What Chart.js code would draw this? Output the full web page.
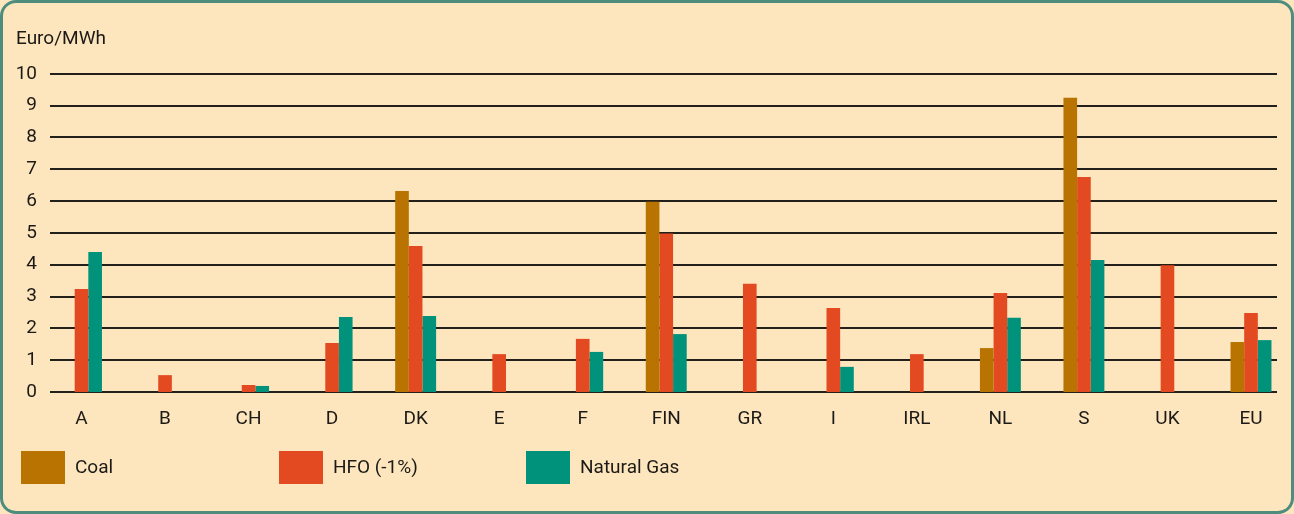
<!DOCTYPE html>
<html>
<head>
<meta charset="utf-8">
<script src="https://cdn.jsdelivr.net/npm/chart.js@4.4.1/dist/chart.umd.min.js"></script>
<style>
    html, body { margin: 0; padding: 0; background: #fde6be; }
    #wrap { position: relative; width: 1294px; height: 514px; }
    #frame {
        position: absolute; left: 0; top: 0; width: 1294px; height: 514px;
        box-sizing: border-box; border: 3px solid #4e8d7e; border-radius: 16px;
        pointer-events: none;
    }
    canvas { position: absolute; left: 0; top: 0; }
</style>
</head>
<body>
<div id="wrap">
    <canvas id="myChart" width="1294" height="514"></canvas>
    <div id="frame"></div>
</div>
<script>
/* data (Euro/MWh) */
let countries = ['A', 'B', 'CH', 'D', 'DK', 'E', 'F', 'FIN', 'GR', 'I', 'IRL', 'NL', 'S', 'UK', 'EU'];
let coal = [null, null, null, null, 6.32, null, null, 5.98, null, null, null, 1.38, 9.25, null, 1.57];
let hfo = [3.24, 0.53, 0.22, 1.54, 4.59, 1.19, 1.67, 4.98, 3.40, 2.64, 1.19, 3.11, 6.76, 3.98, 2.48];
let gas = [4.40, null, 0.19, 2.36, 2.39, null, 1.26, 1.82, null, 0.79, null, 2.33, 4.15, null, 1.63];
let seriesNames = ['Coal', 'HFO (-1%)', 'Natural Gas'];
let yTicks = [0, 1, 2, 3, 4, 5, 6, 7, 8, 9, 10];

const FONT = 'Roboto, "Liberation Sans", sans-serif';
const INK = '#1c1a17';

// horizontal rules, drawn behind the bars and wider than the plot area
const ruleLines = {
    id: 'ruleLines',
    beforeDatasetsDraw(chart) {
        let y = chart.scales.y;
        let ctx = chart.ctx;
        ctx.save();
        ctx.strokeStyle = '#231f1a';
        ctx.lineWidth = 2;
        yTicks.forEach(function (v) {
            let py = Math.round(y.getPixelForValue(v));
            ctx.beginPath();
            ctx.moveTo(50, py);
            ctx.lineTo(1277, py);
            ctx.stroke();
        });
        ctx.restore();
    }
};

// legend with fixed slots like the original
const fixedLegend = {
    id: 'fixedLegend',
    afterDraw(chart) {
        let ctx = chart.ctx;
        let slots = [21, 279, 526];
        ctx.save();
        ctx.font = '19px ' + FONT;
        ctx.textBaseline = 'middle';
        chart.data.datasets.forEach(function (ds, i) {
            ctx.fillStyle = ds.backgroundColor;
            ctx.fillRect(slots[i], 451, 44, 33);
            ctx.fillStyle = INK;
            ctx.fillText(ds.label, slots[i] + 54, 468);
        });
        ctx.restore();
    }
};

let ctx = document.getElementById('myChart').getContext('2d');
let myChart = new Chart(ctx, {
    type: 'bar',
    data: {
        labels: countries,
        datasets: [{
            label: seriesNames[0],
            data: coal,
            backgroundColor: '#b87300'
        }, {
            label: seriesNames[1],
            data: hfo,
            backgroundColor: '#e34a21'
        }, {
            label: seriesNames[2],
            data: gas,
            backgroundColor: '#00927a'
        }]
    },
    options: {
        responsive: false,
        animation: false,
        layout: {padding: {left: 16, right: 43, top: 0, bottom: 82}},
        datasets: {
            bar: {
                categoryPercentage: 0.49,
                barPercentage: 1,
                borderWidth: 0,
                clip: false
            }
        },
        plugins: {
            legend: {display: false},
            tooltip: {enabled: false},
            title: {
                display: true,
                text: 'Euro/MWh',
                align: 'start',
                color: INK,
                font: {family: FONT, size: 19, weight: 'normal'},
                padding: {top: 28, bottom: 23}
            }
        },
        scales: {
            x: {
                offset: false,
                grid: {display: false, drawTicks: false},
                border: {display: false},
                ticks: {
                    color: INK,
                    padding: 16,
                    maxRotation: 0,
                    autoSkip: false,
                    font: {family: FONT, size: 19}
                },
                afterFit(scale) { scale.height = 40; }
            },
            y: {
                min: 0,
                max: 10,
                grid: {display: false, drawTicks: false},
                border: {display: false},
                ticks: {
                    stepSize: 1,
                    color: INK,
                    padding: 44.5,
                    font: {family: FONT, size: 19}
                },
                afterFit(scale) { scale.width = 65.5; }
            }
        }
    },
    plugins: [ruleLines, fixedLegend]
});
</script>
</body>
</html>
